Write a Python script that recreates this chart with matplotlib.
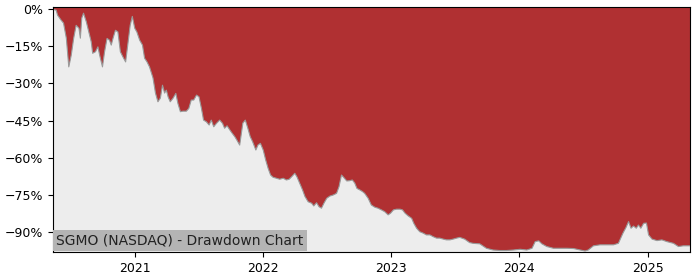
import matplotlib
matplotlib.use("Agg")
import matplotlib.pyplot as plt
import matplotlib.dates as mdates
from matplotlib.ticker import MultipleLocator, FuncFormatter
import pandas as pd

ticker_label = "SGMO (NASDAQ) - Drawdown Chart"

dates = [
    "2020-05-13", "2020-05-22", "2020-05-26", "2020-06-05", "2020-06-12", "2020-06-20",
    "2020-06-27", "2020-07-04", "2020-07-11", "2020-07-18", "2020-07-26", "2020-07-30",
    "2020-08-03", "2020-08-08", "2020-08-16", "2020-08-23", "2020-08-30", "2020-09-03",
    "2020-09-11", "2020-09-18", "2020-09-23", "2020-10-01", "2020-10-07", "2020-10-14",
    "2020-10-21", "2020-10-26", "2020-10-31", "2020-11-07", "2020-11-14", "2020-11-21",
    "2020-11-28", "2020-12-06", "2020-12-12", "2020-12-19", "2020-12-25", "2021-01-01",
    "2021-01-07", "2021-01-15", "2021-01-23", "2021-01-29", "2021-02-05", "2021-02-12",
    "2021-02-22", "2021-03-01", "2021-03-08", "2021-03-15", "2021-03-21", "2021-03-27",
    "2021-04-01", "2021-04-06", "2021-04-12", "2021-04-20", "2021-04-28", "2021-05-04",
    "2021-05-11", "2021-05-18", "2021-05-28", "2021-06-04", "2021-06-11", "2021-06-18",
    "2021-06-26", "2021-07-03", "2021-07-10", "2021-07-16", "2021-07-24", "2021-08-01",
    "2021-08-07", "2021-08-14", "2021-08-22", "2021-08-31", "2021-09-08", "2021-09-14",
    "2021-09-21", "2021-09-29", "2021-10-06", "2021-10-13", "2021-10-19", "2021-10-27",
    "2021-11-05", "2021-11-12", "2021-11-19", "2021-11-26", "2021-12-03", "2021-12-12",
    "2021-12-18", "2021-12-25", "2022-01-02", "2022-01-09", "2022-01-16", "2022-01-23",
    "2022-01-30", "2022-02-09", "2022-02-18", "2022-02-28", "2022-03-09", "2022-03-17",
    "2022-03-24", "2022-04-02", "2022-04-08", "2022-04-16", "2022-04-24", "2022-05-01",
    "2022-05-10", "2022-05-20", "2022-05-26", "2022-06-03", "2022-06-10", "2022-06-17",
    "2022-06-24", "2022-07-02", "2022-07-11", "2022-07-20", "2022-07-30", "2022-08-06",
    "2022-08-13", "2022-08-19", "2022-08-28", "2022-09-05", "2022-09-13", "2022-09-20",
    "2022-09-26", "2022-10-04", "2022-10-12", "2022-10-18", "2022-10-28", "2022-11-06",
    "2022-11-16", "2022-11-25", "2022-12-05", "2022-12-14", "2022-12-24", "2022-12-31",
    "2023-01-08", "2023-01-17", "2023-01-27", "2023-02-03", "2023-02-10", "2023-02-19",
    "2023-03-01", "2023-03-07", "2023-03-15", "2023-03-24", "2023-04-03", "2023-04-12",
    "2023-04-22", "2023-05-01", "2023-05-11", "2023-05-20", "2023-05-30", "2023-06-08",
    "2023-06-18", "2023-06-27", "2023-07-07", "2023-07-16", "2023-07-30", "2023-08-13",
    "2023-08-23", "2023-09-11", "2023-09-30", "2023-10-19", "2023-11-07", "2023-11-26",
    "2023-12-16", "2024-01-04", "2024-01-23", "2024-02-07", "2024-02-16", "2024-02-26",
    "2024-03-06", "2024-03-20", "2024-04-08", "2024-04-27", "2024-05-16", "2024-06-04",
    "2024-06-23", "2024-07-07", "2024-07-16", "2024-07-31", "2024-08-19", "2024-09-07",
    "2024-09-26", "2024-10-10", "2024-10-23", "2024-11-01", "2024-11-08", "2024-11-15",
    "2024-11-22", "2024-11-30", "2024-12-06", "2024-12-13", "2024-12-21", "2024-12-29",
    "2025-01-04", "2025-01-14", "2025-01-28", "2025-02-11", "2025-02-25", "2025-03-16",
    "2025-03-30", "2025-04-13", "2025-04-28", "2025-05-02",
]

drawdown_pct = [
    0.0, -0.4, -2.4, -4.4, -5.6, -11.7,
    -23.3, -18.6, -11.7, -6.5, -7.7, -11.7,
    -3.6, -1.6, -5.1, -9.2, -13.2, -17.8,
    -17.2, -15.2, -18.6, -23.3, -17.2, -11.8,
    -12.5, -14.5, -11.8, -8.5, -9.2, -17.2,
    -19.2, -21.3, -14.5, -6.5, -2.9, -7.7,
    -9.2, -12.5, -14.5, -19.8, -21.3, -23.3,
    -27.8, -33.9, -37.4, -35.9, -30.7, -33.9,
    -32.7, -35.4, -37.4, -36.0, -34.0, -38.1,
    -41.4, -41.2, -41.2, -40.1, -36.7, -36.7,
    -34.7, -35.4, -40.1, -44.8, -45.5, -46.8,
    -44.8, -47.5, -46.1, -44.8, -46.1, -48.1,
    -47.1, -48.8, -50.2, -51.5, -52.9, -54.9,
    -46.0, -44.8, -48.0, -51.5, -53.6, -56.9,
    -54.9, -54.2, -56.9, -60.9, -64.3, -67.0,
    -67.9, -68.3, -68.7, -68.3, -69.0, -68.7,
    -67.7, -66.3, -67.7, -70.3, -73.0, -75.7,
    -77.8, -78.4, -79.5, -78.2, -79.8, -80.4,
    -78.4, -76.4, -75.5, -75.1, -74.4, -71.7,
    -67.0, -67.9, -69.4, -69.3, -69.0, -70.3,
    -72.4, -73.0, -73.7, -74.4, -76.4, -79.1,
    -80.0, -80.4, -81.1, -81.8, -83.1, -82.4,
    -81.1, -80.8, -80.8, -81.1, -82.4, -83.5,
    -84.5, -86.5, -88.5, -89.9, -90.5, -91.2,
    -91.2, -91.9, -92.5, -92.5, -92.9, -93.2,
    -93.2, -92.9, -92.5, -92.2, -92.9, -94.3,
    -94.6, -94.8, -96.6, -97.3, -97.5, -97.5,
    -97.3, -97.0, -97.3, -96.6, -93.9, -93.6,
    -94.8, -95.9, -96.6, -96.6, -96.6, -96.7,
    -97.3, -97.7, -97.3, -95.6, -95.2, -95.2,
    -95.2, -94.6, -90.5, -88.1, -85.8, -88.5,
    -87.6, -88.5, -87.2, -88.5, -86.5, -86.4,
    -91.2, -92.9, -93.5, -93.2, -93.9, -94.6,
    -95.9, -95.6, -95.6, -95.6,
]

x = pd.to_datetime(dates)
y = [v / 100.0 for v in drawdown_pct]

fig = plt.figure(figsize=(7.0, 2.8), dpi=100)
ax = fig.add_axes([0.0757, 0.1, 0.91, 0.875])

red = "#b03032"
ax.set_facecolor(red)
ax.fill_between(x, y, -2, color="#ededed", linewidth=0)
ax.plot(x, y, color="#9a9a9a", linewidth=0.8)

ax.set_xlim(x[0], x[-1])
ax.set_ylim(-0.981, 0.009)

ax.yaxis.set_major_locator(MultipleLocator(0.15))
ax.yaxis.set_major_formatter(FuncFormatter(lambda v, p: f"{v*100:.0f}%".replace("-", "\u2212")))
ax.xaxis.set_major_locator(mdates.YearLocator())
ax.xaxis.set_major_formatter(mdates.DateFormatter("%Y"))
ax.tick_params(axis="both", labelsize=9)

ax.text(0.005, 0.018, ticker_label, transform=ax.transAxes, fontsize=10,
        ha="left", va="bottom", color="#222222",
        bbox=dict(boxstyle="square,pad=0.25", facecolor="#b4b4b4", edgecolor="none"))

fig.savefig("out.png", dpi=100)
